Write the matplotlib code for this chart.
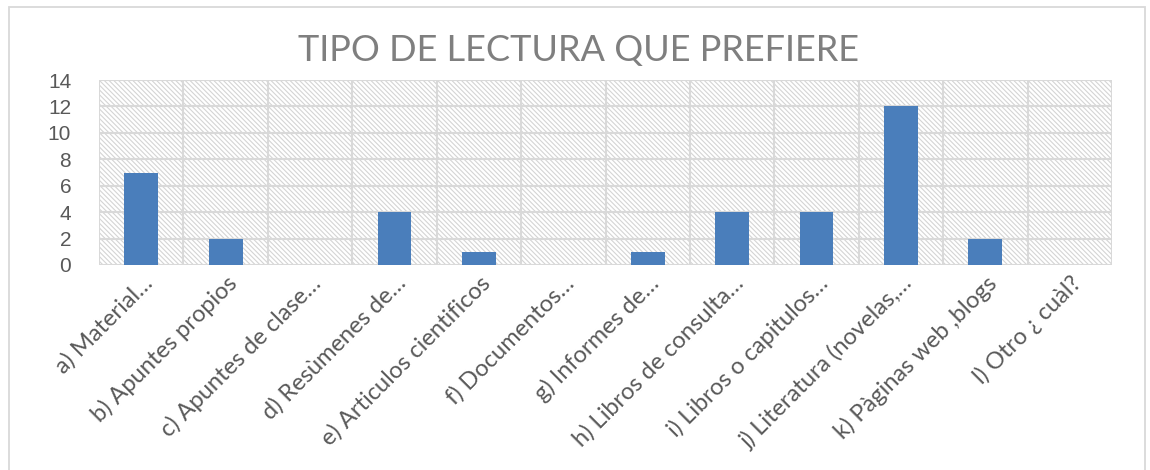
import matplotlib
matplotlib.use("Agg")
import matplotlib.pyplot as plt
from matplotlib.patches import Rectangle

categories = [
    "a) Material…",
    "b) Apuntes propios",
    "c) Apuntes de clase…",
    "d) Resùmenes de…",
    "e) Articulos cientificos",
    "f) Documentos…",
    "g) Informes de…",
    "h) Libros de consulta…",
    "i) Libros o capitulos…",
    "j) Literatura (novelas,…",
    "k) Pàginas web ,blogs",
    "l) Otro ¿ cuàl?",
]
values = [7, 2, 0, 4, 1, 0, 1, 4, 4, 12, 2, 0]
yticks = [0, 2, 4, 6, 8, 10, 12, 14]
title = "TIPO DE LECTURA QUE PREFIERE"

plt.rcParams['hatch.color'] = '#d4d4d4'
plt.rcParams['hatch.linewidth'] = 0.8

fig = plt.figure(figsize=(11.5, 4.7), dpi=100)
W, H = 1150, 470

# outer chart border
fig.patches.append(Rectangle((9 / W, -0.1), (1145 - 9) / W, 1.1 - 7 / H,
                             transform=fig.transFigure, fill=False,
                             edgecolor='#d9d9d9', linewidth=1.3))

ax = fig.add_axes([99 / W, 1 - 265 / H, (1112 - 99) / W, (265 - 80) / H])

x = list(range(len(categories)))
ax.set_xlim(-0.5, len(categories) - 0.5)
ax.set_ylim(0, 14)

# hatched background
ax.add_patch(Rectangle((0, 0), 1, 1, transform=ax.transAxes, facecolor='white',
                       hatch='\\' * 7, edgecolor='#d4d4d4', linewidth=0, zorder=0))

ax.bar(x, values, width=0.4, color='#4a7ebb', zorder=3)

ax.set_yticks(yticks)
ax.set_yticklabels([str(v) for v in yticks], fontsize=15, color='#595959',
                   family=['Liberation Sans', 'DejaVu Sans'])
ax.set_xticks(x)
ax.set_xticklabels(categories, rotation=45, ha='right', va='top',
                   rotation_mode='anchor', fontsize=17, color='#595959',
                   family=['Lato', 'DejaVu Sans'])
ax.tick_params(axis='both', length=0)
ax.tick_params(axis='x', pad=5)
ax.tick_params(axis='y', pad=20)

# gridlines
for yv in yticks:
    ax.axhline(yv, color='#d9d9d9', linewidth=1.5, zorder=1)
for xv in [i - 0.5 for i in range(len(categories) + 1)]:
    ax.axvline(xv, color='#d9d9d9', linewidth=1.5, zorder=1)

for s in ax.spines.values():
    s.set_visible(False)

fig.text(578 / W, 1 - 51 / H, title, ha='center', va='center', fontsize=26,
         color='#7f7f7f', family=['Lato', 'DejaVu Sans'], fontweight='normal')

fig.savefig('out.png', dpi=100)
